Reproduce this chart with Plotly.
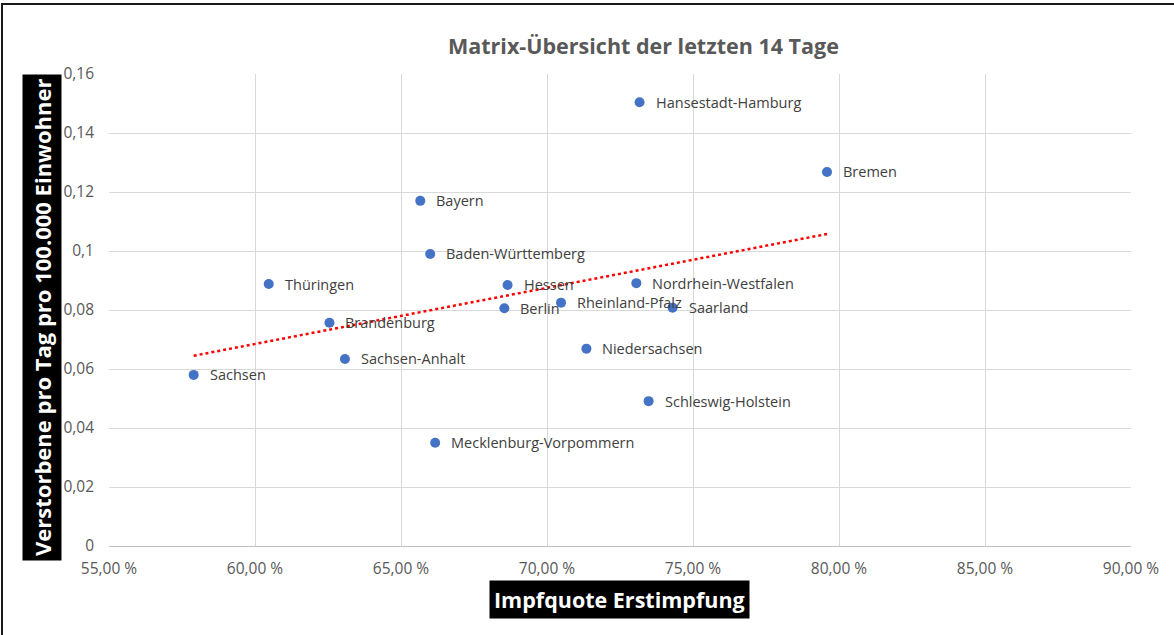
import numpy as np
import plotly.graph_objects as go

# Bundesländer: Impfquote Erstimpfung (%) vs. Verstorbene pro Tag pro 100.000 Einwohner
laender = [
    "Hansestadt-Hamburg", "Bremen", "Bayern", "Baden-Württemberg", "Thüringen",
    "Hessen", "Nordrhein-Westfalen", "Brandenburg", "Berlin", "Rheinland-Pfalz",
    "Saarland", "Sachsen-Anhalt", "Sachsen", "Niedersachsen", "Schleswig-Holstein",
    "Mecklenburg-Vorpommern",
]
impfquote = [
    73.17, 79.59, 65.66, 66.00, 60.47,
    68.65, 73.06, 62.55, 68.54, 70.48,
    74.30, 63.08, 57.90, 71.35, 73.48,
    66.17,
]
verstorbene = [
    0.1504, 0.1268, 0.1170, 0.0990, 0.0888,
    0.0885, 0.0891, 0.0757, 0.0806, 0.0825,
    0.0808, 0.0634, 0.0580, 0.0669, 0.0491,
    0.0350,
]

x_ticks = [55, 60, 65, 70, 75, 80, 85, 90]
x_tick_labels = ["55,00 %", "60,00 %", "65,00 %", "70,00 %", "75,00 %", "80,00 %", "85,00 %", "90,00 %"]
y_ticks = [0, 0.02, 0.04, 0.06, 0.08, 0.10, 0.12, 0.14, 0.16]
y_tick_labels = ["0", "0,02", "0,04", "0,06", "0,08", "0,1", "0,12", "0,14", "0,16"]

W, H = 1174, 635
ML, MR, MT, MB = 109, 43, 74, 89
PW, PH = W - ML - MR, H - MT - MB


def px_x(p):
    return (p - ML) / PW


def px_y(p):
    return (H - MB - p) / PH


# linear trend line over the data
xs = np.array(impfquote)
ys = np.array(verstorbene)
slope, intercept = np.polyfit(xs, ys, 1)
trend_x = [xs.min(), xs.max()]
trend_y = [slope * v + intercept for v in trend_x]

fig = go.Figure()
fig.add_trace(go.Scatter(
    x=trend_x, y=trend_y, mode="lines",
    line=dict(color="#FF0000", width=2.5, dash="dot"),
    hoverinfo="skip", showlegend=False,
))
fig.add_trace(go.Scatter(
    x=impfquote, y=verstorbene, mode="markers",
    marker=dict(size=10, color="#4472C4"),
    text=laender, hoverinfo="text+x+y", showlegend=False,
))

annotations = []
for name, xv, yv in zip(laender, impfquote, verstorbene):
    annotations.append(dict(
        x=xv, y=yv, xref="x", yref="y", text=name, showarrow=False,
        xanchor="left", yanchor="middle", xshift=14, yshift=0,
        font=dict(family="Open Sans", size=14.5, color="#404040"),
    ))

annotations.append(dict(
    x=px_x(643), y=px_y(45), xref="paper", yref="paper",
    text="<b>Matrix-Übersicht der letzten 14 Tage</b>", showarrow=False,
    xanchor="center", yanchor="middle",
    font=dict(family="Open Sans", size=21.5, color="#595959"),
))
annotations.append(dict(
    x=px_x(619.5), y=px_y(599), xref="paper", yref="paper",
    text="<b>Impfquote Erstimpfung</b>", showarrow=False,
    xanchor="center", yanchor="middle", bgcolor="#000000", borderpad=4,
    font=dict(family="Open Sans", size=21.5, color="#FFFFFF"),
))
annotations.append(dict(
    x=px_x(42), y=px_y(318), xref="paper", yref="paper",
    text="<b>Verstorbene pro Tag pro 100.000 Einwohner</b>", showarrow=False,
    textangle=-90, xanchor="center", yanchor="middle", bgcolor="#000000", borderpad=4,
    font=dict(family="Open Sans", size=22, color="#FFFFFF"),
))

shapes = [
    dict(type="line", xref="paper", yref="paper",
         x0=px_x(1), x1=px_x(W + 2), y0=px_y(4), y1=px_y(4),
         line=dict(color="#1a1a1a", width=2)),
    dict(type="line", xref="paper", yref="paper",
         x0=px_x(2), x1=px_x(2), y0=px_y(3), y1=px_y(H + 2),
         line=dict(color="#1a1a1a", width=2)),
]

fig.update_layout(
    width=W, height=H,
    margin=dict(l=ML, r=MR, t=MT, b=MB, pad=0),
    paper_bgcolor="#FFFFFF", plot_bgcolor="#FFFFFF",
    font=dict(family="Open Sans", color="#595959"),
    annotations=annotations, shapes=shapes,
    xaxis=dict(
        range=[55, 90], tickvals=x_ticks, ticktext=x_tick_labels,
        showgrid=True, gridcolor="#D9D9D9", gridwidth=1,
        zeroline=False, showline=True, linecolor="#BFBFBF", linewidth=1,
        ticks="", ticklabelstandoff=8,
        tickfont=dict(family="Open Sans", size=15.5, color="#595959"),
        fixedrange=True,
    ),
    yaxis=dict(
        range=[0, 0.16], tickvals=y_ticks, ticktext=y_tick_labels,
        showgrid=True, gridcolor="#D9D9D9", gridwidth=1,
        zeroline=False, showline=False,
        ticks="", ticklabelstandoff=14,
        tickfont=dict(family="Open Sans", size=15.5, color="#595959"),
        fixedrange=True,
    ),
    showlegend=False,
)

fig.write_html("out.html")
